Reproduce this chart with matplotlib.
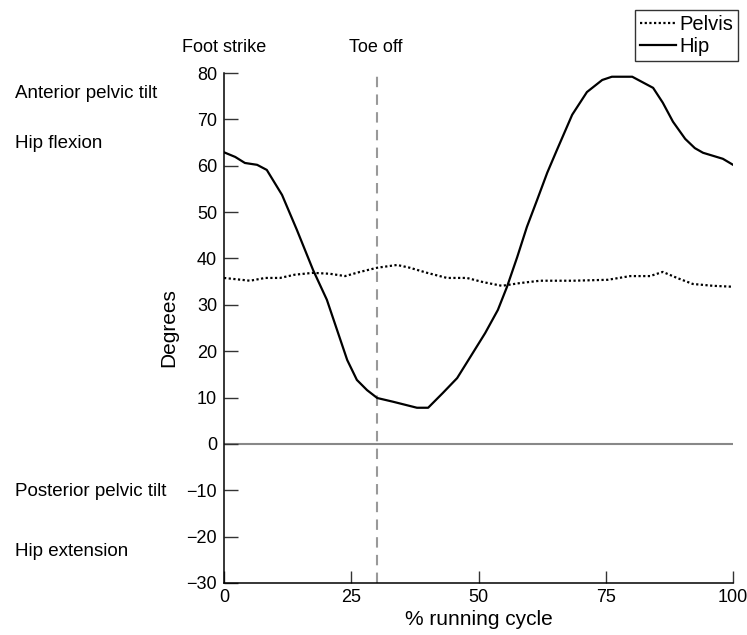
import matplotlib
matplotlib.use("Agg")
import matplotlib.pyplot as plt

plt.rcParams['font.family'] = ['Liberation Sans', 'DejaVu Sans']

hip_x = [0, 2.2, 4.1, 6.5, 8.4, 11.4, 14.3, 17.5, 20.2, 22.2, 24.2, 26.1, 28.1, 30.1,
         33.2, 37.9, 40.1, 43.0, 45.8, 48.3, 51.3, 53.8, 55.6, 57.6, 59.5, 61.5, 63.5,
         65.4, 68.4, 71.3, 74.3, 76.2, 80.2, 84.3, 86.2, 88.2, 90.6, 92.5, 94.1, 98.0, 100]
hip_y = [62.9, 61.9, 60.6, 60.2, 59.1, 53.7, 46.2, 37.5, 31.1, 24.6, 18.1, 13.8, 11.6, 9.9,
         9.1, 7.8, 7.8, 11.0, 14.2, 18.6, 23.9, 28.9, 33.9, 40.3, 46.8, 52.6, 58.5,
         63.4, 71.0, 75.9, 78.5, 79.2, 79.2, 76.8, 73.6, 69.5, 65.8, 63.8, 62.8, 61.5, 60.2]

pelvis_x = [0, 5.1, 8.1, 11, 13.9, 17.5, 20.8, 23.8, 26.7, 30.1, 34.0, 36.5, 39.9, 43.8,
            47.7, 50.9, 54.6, 58.2, 62.1, 68.6, 75.4, 79.8, 83.7, 86.2, 89.0, 92.1, 96.1, 100]
pelvis_y = [35.8, 35.2, 35.8, 35.8, 36.5, 36.9, 36.7, 36.2, 37.1, 38.0, 38.6, 38.0, 36.9, 35.8,
            35.8, 34.9, 34.1, 34.7, 35.2, 35.2, 35.4, 36.2, 36.2, 37.1, 35.8, 34.5, 34.1, 33.9]

x_ticks = [0, 25, 50, 75, 100]
y_ticks = [-30, -20, -10, 0, 10, 20, 30, 40, 50, 60, 70, 80]
toe_off = 30

fig = plt.figure(figsize=(7.47, 6.35), dpi=100)
ax = fig.add_axes([0.2999, 0.0819, 0.6814, 0.8031])

ax.axhline(0, color='#888888', lw=1.5, zorder=1)
ax.axvline(toe_off, color='#999999', lw=1.5, ls=(0, (5, 3.5)), zorder=1)
ax.plot(pelvis_x, pelvis_y, color='black', lw=1.6, ls=(0, (1, 1.1)), label='Pelvis', zorder=3)
ax.plot(hip_x, hip_y, color='black', lw=1.6, label='Hip', zorder=3)

ax.set_xlim(0, 100)
ax.set_ylim(-30, 80)
ax.set_xticks(x_ticks)
ax.set_yticks(y_ticks)
ax.set_yticklabels([('\u2212' + str(-v)) if v < 0 else str(v) for v in y_ticks])
ax.tick_params(direction='in', length=10, width=1, labelsize=13, color='#333333', pad=5)
ax.tick_params(axis='x', length=9, pad=4)
for s in ['top', 'right']:
    ax.spines[s].set_visible(False)
for s in ['left', 'bottom']:
    ax.spines[s].set_linewidth(1.1)

ax.set_xlabel('% running cycle', fontsize=15, labelpad=3)
ax.set_ylabel('Degrees', fontsize=15, labelpad=6)

fig.text(224 / 747, 1 - 47 / 635, 'Foot strike', ha='center', va='center', fontsize=13)
fig.text(376 / 747, 1 - 47 / 635, 'Toe off', ha='center', va='center', fontsize=13)
for txt, py in [('Anterior pelvic tilt', 94), ('Hip flexion', 144),
                ('Posterior pelvic tilt', 491), ('Hip extension', 552)]:
    fig.text(15 / 747, 1 - py / 635, txt, ha='left', va='center', fontsize=13.5)

leg = ax.legend(loc='upper right', bbox_to_anchor=(738 / 747, 1 - 10 / 635),
                bbox_transform=fig.transFigure, frameon=True, fancybox=False,
                edgecolor='black', fontsize=14.5, handlelength=1.8, handletextpad=0.15,
                borderpad=0.25, labelspacing=0.15, borderaxespad=0)
leg.get_frame().set_linewidth(1.0)

fig.savefig('out.png', dpi=100)
